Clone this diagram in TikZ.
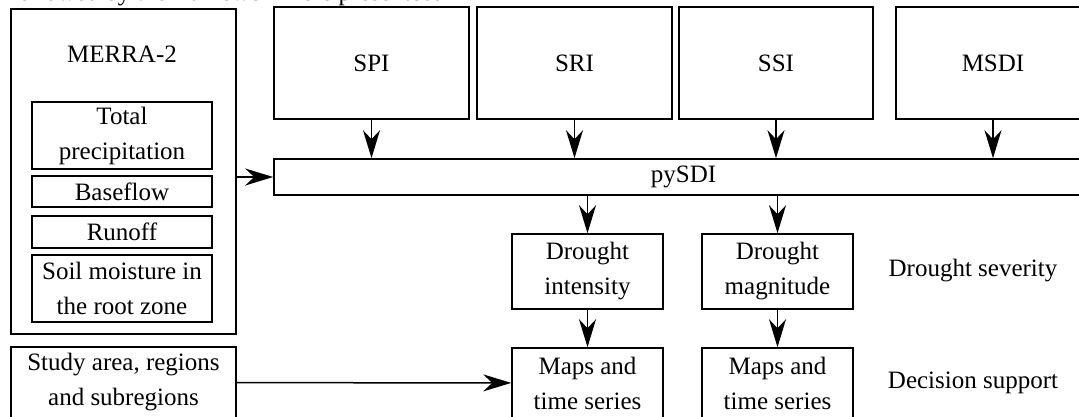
\documentclass[tikz,border=0pt]{standalone}
\usepackage{fontspec}
\setmainfont{Liberation Serif}
\usetikzlibrary{arrows.meta,positioning}
\tikzset
{
    box/.style   = {rectangle, draw=black, line width=1.6pt, align=center, inner sep=0pt},
    inbox/.style = {box, minimum width=180pt},
    index/.style = {box, minimum width=195pt, minimum height=112pt},
    res/.style   = {box, minimum width=151pt, minimum height=75pt},
    txt/.style   = {align=center, inner sep=0pt},
    flow/.style  = {-{Stealth[length=28pt,width=17pt,inset=9pt]}, line width=1.5pt}
}

\begin{document}
\begin{tikzpicture}[x=1pt, y=-1pt, font=\fontsize{25}{35}\selectfont]
\useasboundingbox (0,0) rectangle (1079,417);
\clip (0,0) rectangle (1079,417);

\node (lead)       [txt, anchor=base west]            at (10,1)        {followed by the framework here presented.};

%% inputs
\node (merra)      [box, minimum width=225pt, minimum height=325pt] at (123.5,171.5) {};
\node (merratitle) [txt]                               at (122,54)      {MERRA-2};
\node (prec)       [inbox, minimum height=67pt]        at (122,135.5)   {Total\\precipitation};
\node (base)       [inbox, minimum height=31pt]        at (122,191.5)   {Baseflow};
\node (runoff)     [inbox, minimum height=32pt]        at (122,232)     {Runoff};
\node (soil)       [inbox, minimum height=67pt]        at (122,288.5)   {Soil moisture in\\the root zone};
\node (study)      [box, minimum width=225pt, minimum height=71pt]  at (123.5,382.5) {Study area, regions\\and subregions};

%% indices
\node (spi)        [index]                             at (371.5,63)    {SPI};
\node (sri)        [index]                             at (574.5,63)    {SRI};
\node (ssi)        [index, minimum width=194pt]        at (776,63)      {SSI};
\node (msdi)       [index, minimum width=194pt]        at (993,63)      {MSDI};
\node (pysdi)      [box, minimum width=826pt, minimum height=36pt]  at (687,177)     {};
\node (pysditext)  [txt]                               at (683.5,177)   {pySDI};

%% results
\node (drint)      [res]                               at (587.5,271.5) {Drought\\intensity};
\node (drmag)      [res]                               at (777.5,271.5) {Drought\\magnitude};
\node (mapint)     [res, minimum height=70pt]          at (587.5,383)   {Maps and\\time series};
\node (mapmag)     [res, minimum height=70pt]          at (777.5,383)   {Maps and\\time series};
\node (severity)   [txt]                               at (973,271)     {Drought severity};
\node (decision)   [txt]                               at (973,383)     {Decision support};

\draw[flow] (spi.south) -- (spi.south |- pysdi.north);
\draw[flow] (sri.south) -- (sri.south |- pysdi.north);
\draw[flow] (ssi.south) -- (ssi.south |- pysdi.north);
\draw[flow] (msdi.south) -- (msdi.south |- pysdi.north);
\draw[flow] (merra.east |- pysdi.west) -- (pysdi.west);
\draw[flow] (drint.north |- pysdi.south) -- (drint.north);
\draw[flow] (drmag.north |- pysdi.south) -- (drmag.north);
\draw[flow] (drint) -- (mapint);
\draw[flow] (drmag) -- (mapmag);
\draw[flow] (study) -- (mapint);
\end{tikzpicture}
\end{document}
